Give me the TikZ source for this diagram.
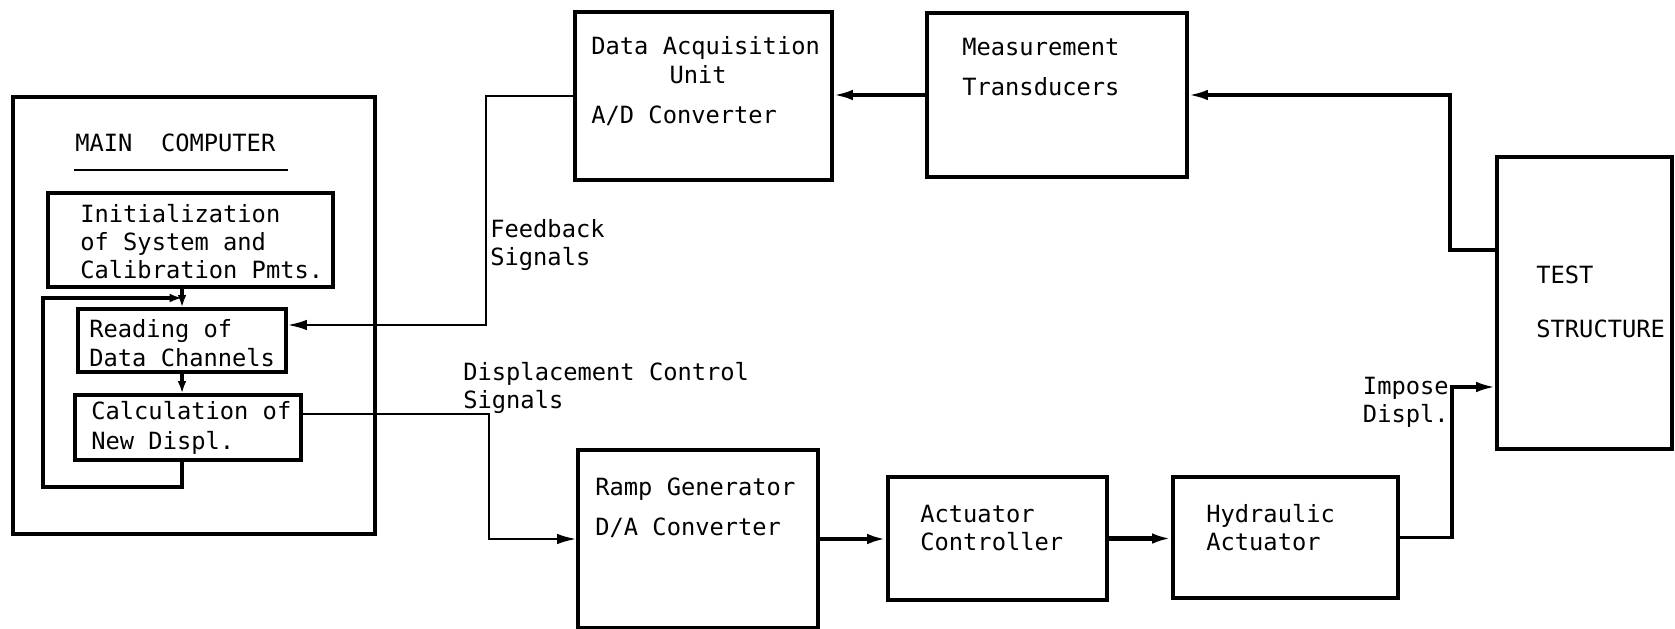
\documentclass[tikz,border=0pt]{standalone}
\usepackage{fontspec}
\setmonofont{DejaVu Sans Mono}
\usetikzlibrary{arrows.meta,fit,calc}

\begin{document}
\begin{tikzpicture}[x=0.2mm,y=-0.2mm,
  font=\ttfamily\fontsize{13.5}{15.9}\selectfont,
  blk/.style={draw,line width=1.8pt,inner sep=0pt},
  txt/.style={anchor=west,align=left,inner sep=0pt},
  sig/.style={line width=1.9pt,-{Latex[length=11pt,width=6pt]}},
  sigs/.style={line width=1.8pt,-{Latex[length=7pt,width=5pt]}}]
\useasboundingbox (0,0) rectangle (1675,629);
% main computer
\node[blk,fit={(13,97) (375,534)}] (main) {};
\node[txt] (maint) at (75,143) {MAIN\ \ COMPUTER};
\draw[line width=1.1pt] (74,170) -- (288,170);
\node[blk,fit={(48,193) (333,287)}] (init) {};
\node[txt] (initt) at (80,242) {Initialization\\of System and\\Calibration Pmts.};
\node[blk,fit={(78,309) (286,372)}] (read) {};
\node[txt] (readt) at (89,343) {Reading of\\[0.8pt]Data Channels};
\node[blk,fit={(75,395) (301,460)}] (calc) {};
\node[txt] (calct) at (91,428) {Calculation of\\[0.8pt]New Displ.};
% acquisition side
\node[blk,fit={(575,12) (832,180)}] (daq) {};
\node[txt] (daqt) at (591,81) {Data Acquisition\\[0.5pt]\hspace*{3.3em}Unit\\[6.8pt]A/D Converter};
\node[blk,fit={(927,13) (1187,177)}] (meas) {};
\node[txt] (meast) at (962,67) {Measurement\\[7pt]Transducers};
\node[blk,fit={(1497,157) (1672,449)}] (ts) {};
\node[txt] (tst) at (1536,302) {TEST\\[15pt]STRUCTURE};
% control side
\node[blk,fit={(578,450) (818,628)}] (ramp) {};
\node[txt] (rampt) at (595,508) {Ramp Generator\\[7pt]D/A Converter};
\node[blk,fit={(888,477) (1107,600)}] (ac) {};
\node[txt] (act) at (920,528) {Actuator\\Controller};
\node[blk,fit={(1173,477) (1398,598)}] (ha) {};
\node[txt] (hat) at (1206,528) {Hydraulic\\Actuator};
% labels
\node[txt] (fbt) at (490,245) {Feedback\\Signals};
\node[txt] (dct) at (463,388) {Displacement Control\\Signals};
\node[txt,anchor=east] (ipt) at (1449,402) {Impose\\Displ.};
% connectors
\coordinate (jn) at (182,298);
\coordinate (lp) at (43,487);
\coordinate (fb) at (486,325);
\coordinate (dc) at (489,414);
\coordinate (ip) at (1452,387);
\coordinate (tm) at (1450,250);
\draw[sigs] (init.south -| read.north) -- (read.north);
\draw[sigs] (read.south) -- (read.south |- calc.north);
\draw[sigs] (calc.south -| read.south) |- (lp) |- (jn);
\draw[sig,line width=1.4pt] (daq.west) -| (fb) -- (fb -| read.east);
\draw[sig,line width=1.4pt] (calc.east |- dc) -- (dc) |- (ramp.west);
\draw[sig,line width=2.3pt] (ramp.east) -- (ramp.east -| ac.west);
\draw[sig,line width=2.3pt] (ac.east) -- (ac.east -| ha.west);
\draw[sig] (ha.east) -| (ip) -- (ip -| ts.west);
\draw[sig] (ts.west |- tm) -- (tm) |- (meas.east);
\draw[sig] (meas.west) -- (meas.west -| daq.east);
\end{tikzpicture}
\end{document}
